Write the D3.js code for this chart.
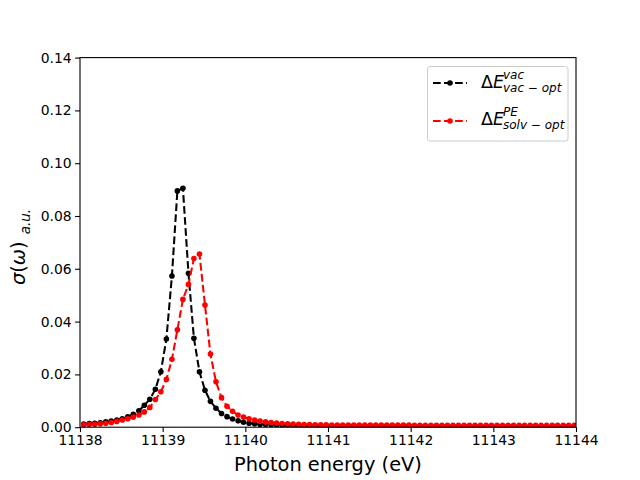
<!DOCTYPE html>
<html>
<head>
<meta charset="UTF-8">
<title>sigma(omega)</title>
<script src="https://d3js.org/d3.v7.min.js"></script>
<style>
  body { margin: 0; background: #fff; }
  svg text { font-family: "DejaVu Sans", sans-serif; }
</style>
</head>
<body>
<svg id="chart" width="640" height="480"></svg>
<script>
// photon energy grid (eV)
const energy = [
  11138.045, 11138.112, 11138.178, 11138.245, 11138.312, 11138.378, 11138.445, 11138.512, 11138.578, 11138.645, 11138.712, 11138.778, 11138.845, 11138.912, 11138.978,
  11139.045, 11139.112, 11139.178, 11139.245, 11139.312, 11139.378, 11139.445, 11139.512, 11139.578, 11139.645, 11139.712, 11139.778, 11139.845, 11139.912, 11139.978,
  11140.045, 11140.112, 11140.178, 11140.245, 11140.312, 11140.378, 11140.445, 11140.512, 11140.578, 11140.645, 11140.712, 11140.778, 11140.845, 11140.912, 11140.978,
  11141.045, 11141.112, 11141.178, 11141.245, 11141.312, 11141.378, 11141.445, 11141.512, 11141.578, 11141.645, 11141.712, 11141.778, 11141.845, 11141.912, 11141.978,
  11142.045, 11142.112, 11142.178, 11142.245, 11142.312, 11142.378, 11142.445, 11142.512, 11142.578, 11142.645, 11142.712, 11142.778, 11142.845, 11142.912, 11142.978,
  11143.045, 11143.112, 11143.178, 11143.245, 11143.312, 11143.378, 11143.445, 11143.512, 11143.578, 11143.645, 11143.712, 11143.778, 11143.845, 11143.912, 11143.978
];

// vac-opt (black)
const sigmaVac = [
  0.0012, 0.0014, 0.0015, 0.0017, 0.0020, 0.0023, 0.0027, 0.0032, 0.0039, 0.0049, 0.0062, 0.0083, 0.0106, 0.0144, 0.0210,
  0.0334, 0.0573, 0.0895, 0.0905, 0.0583, 0.0337, 0.0210, 0.0140, 0.0098, 0.0072, 0.0052, 0.0040, 0.0031, 0.0024, 0.0019,
  0.0015, 0.0013, 0.0011, 0.0010, 0.0009, 0.0008, 0.0007, 0.0007, 0.0006, 0.0006, 0.0005, 0.0005, 0.0005, 0.0005, 0.0005,
  0.0004, 0.0004, 0.0004, 0.0004, 0.0004, 0.0004, 0.0004, 0.0004, 0.0004, 0.0004, 0.0004, 0.0004, 0.0004, 0.0004, 0.0004,
  0.0003, 0.0003, 0.0003, 0.0003, 0.0003, 0.0003, 0.0003, 0.0003, 0.0003, 0.0003, 0.0003, 0.0003, 0.0003, 0.0003, 0.0003,
  0.0003, 0.0003, 0.0003, 0.0003, 0.0003, 0.0003, 0.0003, 0.0003, 0.0003, 0.0003, 0.0003, 0.0003, 0.0003, 0.0003, 0.0003
];

// solv-opt PE (red)
const sigmaSolv = [
  0.0009, 0.0010, 0.0011, 0.0013, 0.0015, 0.0018, 0.0022, 0.0027, 0.0032, 0.0038, 0.0046, 0.0058, 0.0075, 0.0105, 0.0134,
  0.0181, 0.0257, 0.0369, 0.0484, 0.0541, 0.0639, 0.0656, 0.0463, 0.0277, 0.0172, 0.0112, 0.0079, 0.0060, 0.0046, 0.0038,
  0.0032, 0.0027, 0.0023, 0.0020, 0.0018, 0.0016, 0.0014, 0.0013, 0.0012, 0.0011, 0.0010, 0.0010, 0.0009, 0.0009, 0.0009,
  0.0008, 0.0008, 0.0008, 0.0008, 0.0008, 0.0008, 0.0008, 0.0008, 0.0008, 0.0008, 0.0008, 0.0008, 0.0008, 0.0008, 0.0008,
  0.0007, 0.0007, 0.0007, 0.0007, 0.0007, 0.0007, 0.0007, 0.0007, 0.0007, 0.0007, 0.0007, 0.0007, 0.0007, 0.0007, 0.0007,
  0.0007, 0.0007, 0.0007, 0.0007, 0.0007, 0.0007, 0.0007, 0.0007, 0.0007, 0.0007, 0.0007, 0.0007, 0.0007, 0.0007, 0.0007
];

const xTicks = [11138, 11139, 11140, 11141, 11142, 11143, 11144];
const yTicks = [0, 0.02, 0.04, 0.06, 0.08, 0.10, 0.12, 0.14];

const plotL = 80, plotR = 576, plotT = 57.6, plotB = 427.2;
const svg = d3.select('#chart');

const x = d3.scaleLinear().domain([11138, 11144]).range([plotL, plotR]);
const y = d3.scaleLinear().domain([0, 0.14]).range([plotB, plotT]);

svg.append('defs').append('clipPath').attr('id', 'plotclip')
  .append('rect')
  .attr('x', plotL).attr('y', plotT)
  .attr('width', plotR - plotL).attr('height', plotB - plotT);

// axes
const xAxis = svg.append('g')
  .attr('transform', `translate(0,${plotB})`)
  .call(d3.axisBottom(x).tickValues(xTicks).tickFormat(d3.format('d')).tickSize(4.9).tickPadding(3.5));
const yAxis = svg.append('g')
  .attr('transform', `translate(${plotL},0)`)
  .call(d3.axisLeft(y).tickValues(yTicks).tickFormat(d3.format('.2f')).tickSize(4.9).tickPadding(3.5));

[xAxis, yAxis].forEach(a => {
  a.select('.domain').remove();
  a.selectAll('.tick line').attr('stroke', '#000').attr('stroke-width', 1.1);
  a.selectAll('.tick text').attr('fill', '#000')
    .style('font-family', '"DejaVu Sans", sans-serif').style('font-size', '13.9px');
});

// series
const series = [
  { values: sigmaVac, color: '#000000' },
  { values: sigmaSolv, color: '#ff0000' }
];

const plot = svg.append('g').attr('clip-path', 'url(#plotclip)');
const line = d3.line().x(d => x(d[0])).y(d => y(d[1]));

series.forEach(s => {
  const pts = energy.map((e, i) => [e, s.values[i]]);
  plot.append('path')
    .datum(pts)
    .attr('d', line)
    .attr('fill', 'none')
    .attr('stroke', s.color)
    .attr('stroke-width', 2.08)
    .attr('stroke-dasharray', '7.7,3.33');
  plot.selectAll(null)
    .data(pts)
    .enter().append('circle')
    .attr('cx', d => x(d[0]))
    .attr('cy', d => y(d[1]))
    .attr('r', 2.8)
    .attr('fill', s.color);
});

// frame
svg.append('rect')
  .attr('x', plotL).attr('y', plotT)
  .attr('width', plotR - plotL).attr('height', plotB - plotT)
  .attr('fill', 'none').attr('stroke', '#000').attr('stroke-width', 1.1);

// axis labels
svg.append('text')
  .attr('x', (plotL + plotR) / 2).attr('y', 471)
  .attr('text-anchor', 'middle')
  .style('font-size', '19.4px')
  .text('Photon energy (eV)');

const yl = svg.append('text')
  .attr('transform', 'translate(25,247) rotate(-90)')
  .attr('text-anchor', 'middle')
  .style('font-size', '19.4px');
yl.append('tspan').style('font-style', 'italic').text('σ');
yl.append('tspan').text('(');
yl.append('tspan').style('font-style', 'italic').text('ω');
yl.append('tspan').text(')');
yl.append('tspan').attr('dx', 7).attr('dy', 5).style('font-size', '13.5px').style('font-style', 'italic').text('a.u.');

// legend
const lg = svg.append('g');
lg.append('rect')
  .attr('x', 427.5).attr('y', 66.5).attr('width', 140.5).attr('height', 74.5)
  .attr('rx', 2.5)
  .attr('fill', '#fff').attr('fill-opacity', 0.8)
  .attr('stroke', '#cccccc').attr('stroke-width', 1);

const legendRows = [
  { color: '#000000', ly: 83, base: 88.3, sup: 'vac', sub: 'vac − opt' },
  { color: '#ff0000', ly: 121, base: 125, sup: 'PE', sub: 'solv − opt' }
];
legendRows.forEach(r => {
  lg.append('line')
    .attr('x1', 433).attr('x2', 467).attr('y1', r.ly).attr('y2', r.ly)
    .attr('stroke', r.color).attr('stroke-width', 2.08).attr('stroke-dasharray', '7.7,3.33');
  lg.append('circle').attr('cx', 450).attr('cy', r.ly).attr('r', 2.8).attr('fill', r.color);
  const t = lg.append('text').attr('x', 481).attr('y', r.base).style('font-size', '17.5px');
  t.append('tspan').text('Δ');
  t.append('tspan').style('font-style', 'italic').text('E');
  lg.append('text').attr('x', 503).attr('y', r.base - 9.5)
    .style('font-size', '12px').style('font-style', 'italic').text(r.sup);
  lg.append('text').attr('x', 503).attr('y', r.base + 4)
    .style('font-size', '12px').style('font-style', 'italic').text(r.sub);
});
</script>
</body>
</html>
